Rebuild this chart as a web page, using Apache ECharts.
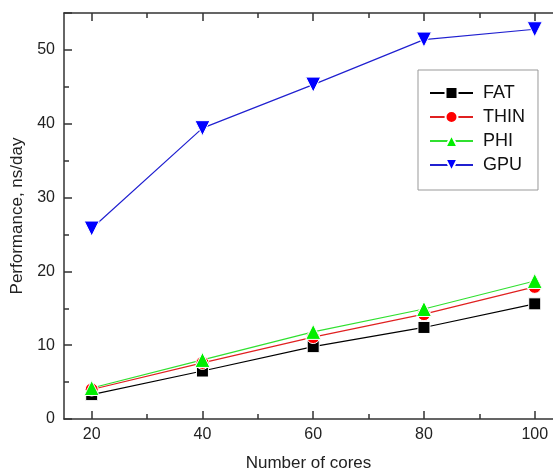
<!DOCTYPE html>
<html>
<head>
<meta charset="utf-8">
<script src="https://cdn.jsdelivr.net/npm/echarts@6/dist/echarts.min.js"></script>
<style>
html,body{margin:0;padding:0;background:#fff;}
#c{width:553px;height:472px;}
</style>
</head>
<body>
<div id="c"></div>
<script>
var cores = [20, 40, 60, 80, 100];
var fat = [3.3, 6.5, 9.8, 12.4, 15.6];
var thin = [4.0, 7.6, 11.1, 14.2, 17.9];
var phi = [4.2, 8.0, 11.8, 14.9, 18.7];
var gpu = [25.8, 39.4, 45.3, 51.4, 52.8];
var xMajor = [20, 40, 60, 80, 100];
var xMinor = [30, 50, 70, 90];
var yLabels = [0, 10, 20, 30, 40, 50];

function pairs(v){ return cores.map(function(c,i){ return [c, v[i]]; }); }

var font = 'Liberation Sans, Arial, sans-serif';
var axisColor = '#333';
var X_MIN = 15, X_MAX = 103.3;

function xAx(pos, vals, len, showLine, showLabel){
  return {
    type:'value', position:pos, min:X_MIN, max:X_MAX,
    axisLine:{show:showLine, onZero:false, lineStyle:{color:axisColor, width:1.5}},
    axisTick:{show:true, inside:true, length:len, customValues:vals, lineStyle:{color:axisColor, width:1.5}},
    axisLabel:{show:showLabel, customValues:vals, color:'#222', fontSize:16, fontFamily:font, margin:8},
    splitLine:{show:false}
  };
}

var xAxes = [
  xAx('bottom', xMajor, 8, true, true),
  xAx('bottom', xMinor, 5, false, false),
  xAx('top', xMajor, 8, true, false),
  xAx('top', xMinor, 5, false, false)
];
xAxes[0].name = 'Number of cores';
xAxes[0].nameLocation = 'middle';
xAxes[0].nameGap = 36;
xAxes[0].nameTextStyle = {fontSize:17, color:'#222', fontFamily:font};

var yAxes = [{
  type:'value', position:'left', min:0, max:55, interval:10,
  axisLine:{show:true, onZero:false, lineStyle:{color:axisColor, width:1.5}},
  axisTick:{show:true, inside:true, length:8, lineStyle:{color:axisColor, width:1.5}},
  minorTick:{show:true, splitNumber:2, length:5, lineStyle:{color:axisColor, width:1.5}},
  axisLabel:{show:true, customValues:yLabels, color:'#222', fontSize:16, fontFamily:font, margin:9},
  splitLine:{show:false}, minorSplitLine:{show:false},
  name:'Performance, ns/day', nameLocation:'middle', nameGap:33,
  nameTextStyle:{fontSize:17, color:'#222', fontFamily:font}
}];

function ser(name, data, color, lineColor, symbol, size, rot){
  return {
    name:name, type:'line', data:pairs(data), xAxisIndex:0, yAxisIndex:0,
    symbol:symbol, symbolSize:size, symbolRotate:rot||0, showAllSymbol:true,
    lineStyle:{color:lineColor, width:1.2},
    itemStyle:{color:color, borderColor:'#fff', borderWidth:1, opacity:1},
    emphasis:{disabled:true}, animation:false
  };
}

var chart = echarts.init(document.getElementById('c'), null, {renderer:'canvas'});
chart.setOption({
  backgroundColor:'#fff',
  animation:false,
  grid:{left:64, top:13, right:0, bottom:53, containLabel:false, outerBoundsMode:'none'},
  xAxis:xAxes,
  yAxis:yAxes,
  legend:{
    orient:'vertical', left:418, top:70,
    padding:[14,13,16,11], itemGap:6,
    itemWidth:43, itemHeight:15,
    backgroundColor:'#fff', borderColor:'#999', borderWidth:1,
    textStyle:{fontSize:18, lineHeight:16, color:'#111', fontFamily:font, padding:[0,0,0,5]},
    data:['FAT','THIN','PHI','GPU']
  },
  series:[
    ser('FAT', fat, '#000', '#000', 'rect', 12),
    ser('THIN', thin, '#ff0000', '#e02020', 'circle', 13),
    ser('PHI', phi, '#00ee00', '#30e030', 'triangle', 15),
    ser('GPU', gpu, '#0000ff', '#2020d0', 'triangle', 15, 180)
  ]
});
</script>
</body>
</html>
